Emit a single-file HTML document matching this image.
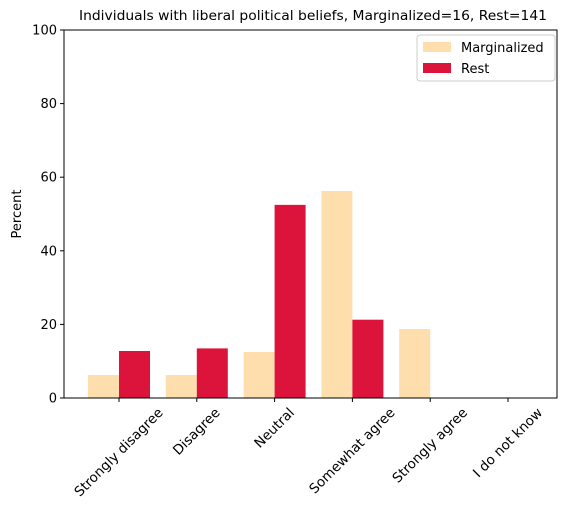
<!DOCTYPE html>
<html><head><meta charset="utf-8"><style>
body{margin:0;background:#fff;font-family:"DejaVu Sans","Liberation Sans",sans-serif}
</style></head><body>
<svg id="chart" width="571" height="514" xmlns="http://www.w3.org/2000/svg" font-family="DejaVu Sans, Liberation Sans, sans-serif">
<text x="313" y="20" text-anchor="middle" font-size="13" textLength="468" lengthAdjust="spacingAndGlyphs">Individuals with liberal political beliefs, Marginalized=16, Rest=141</text>
<g id="bars"></g>
<g id="axes"></g>
<g>
<rect x="417" y="35" width="138" height="46" fill="#fff" stroke="#ccc" rx="3"/>
<rect x="423" y="42" width="28" height="10" fill="#ffdead"/>
<text x="461" y="52" font-size="13">Marginalized</text>
<rect x="423" y="63" width="28" height="10" fill="#dc143c"/>
<text x="461" y="73" font-size="13">Rest</text>
</g>
</svg>
<script>
const categories=["Strongly disagree","Disagree","Neutral","Somewhat agree","Strongly agree","I do not know"];
const marginalized=[6.25,6.25,12.5,56.25,18.75,0];
const rest=[12.77,13.48,52.48,21.28,0,0];
const yTicks=[0,20,40,60,80,100];
const L=64,R=557,T=30,B=398;
const x=i=>119+i*77.8;
const y=v=>B-(v/100)*(B-T);
const bw=31;
const NS="http://www.w3.org/2000/svg";
const bars=document.getElementById('bars'),axes=document.getElementById('axes');
function mk(tag,attrs,parent){const e=document.createElementNS(NS,tag);for(const k in attrs)e.setAttribute(k,attrs[k]);parent.appendChild(e);return e;}
categories.forEach((c,i)=>{
  const a=mk('rect',{x:x(i)-bw,y:y(marginalized[i]),width:bw,height:B-y(marginalized[i]),fill:'#ffdead'},bars);
  
  
  const b=mk('rect',{x:x(i),y:y(rest[i]),width:bw,height:B-y(rest[i]),fill:'#dc143c'},bars);
  
  
  mk('line',{x1:x(i),x2:x(i),y1:B,y2:B+4,stroke:'#000'},axes);
  const t=mk('text',{x:x(i),y:0,'font-size':13.5,'text-anchor':'middle','dominant-baseline':'central'},axes);
  t.textContent=c;
  
  
  const w=t.getComputedTextLength(),h=13;
  const cy=406+(w+h)/(2*Math.SQRT2);
  t.setAttribute('y',cy);
  t.setAttribute('transform',`rotate(-45 ${x(i)} ${cy})`);
});
yTicks.forEach(v=>{
  mk('line',{x1:L-4,x2:L,y1:y(v),y2:y(v),stroke:'#000'},axes);
  const t=mk('text',{x:L-7,y:y(v)+4.5,'font-size':13,'text-anchor':'end'},axes);
  t.textContent=v;
  
  
});
const f=mk('rect',{x:L,y:T,width:R-L,height:B-T,fill:'none',stroke:'#000','stroke-width':1},axes);


const yl=mk('text',{x:21,y:(T+B)/2,'font-size':13,'text-anchor':'middle',transform:`rotate(-90 21 ${(T+B)/2})`},axes);
yl.textContent='Percent';


</script>
</body></html>
